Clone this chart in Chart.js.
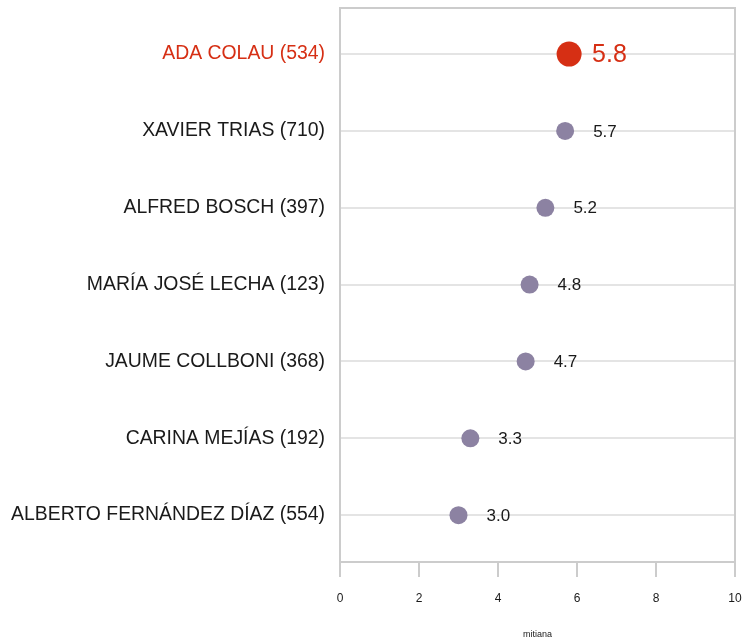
<!DOCTYPE html>
<html>
<head>
<meta charset="utf-8">
<script src="https://cdn.jsdelivr.net/npm/chart.js@4.4.1/dist/chart.umd.min.js"></script>
<style>
  html, body { margin: 0; padding: 0; background: #fff; }
  #wrap { width: 746px; height: 640px; }
</style>
</head>
<body>
<div id="wrap"><canvas id="chart"></canvas></div>
<script>
const names = [
  "ADA COLAU (534)",
  "XAVIER TRIAS (710)",
  "ALFRED BOSCH (397)",
  "MARÍA JOSÉ LECHA (123)",
  "JAUME COLLBONI (368)",
  "CARINA MEJÍAS (192)",
  "ALBERTO FERNÁNDEZ DÍAZ (554)",
];
const medians = [5.8, 5.7, 5.2, 4.8, 4.7, 3.3, 3.0];
const xTicks = [0, 2, 4, 6, 8, 10];
const highlight = 0;

const palette = {
  red: "#d62f14",
  purple: "#8c82a2",
  text: "#1a1a1a",
  grid: "#e4e4e4",
  frame: "#cccccc",
};

Chart.defaults.font.family = '"Liberation Sans", Arial, Helvetica, sans-serif';
Chart.defaults.color = palette.text;

const frame = {
  id: "frame",
  beforeDatasetsDraw(chart) {
    const { ctx, chartArea: a } = chart;
    ctx.save();
    ctx.strokeStyle = palette.frame;
    ctx.lineWidth = 2;
    ctx.strokeRect(a.left, a.top, a.right - a.left, a.bottom - a.top);
    ctx.restore();
  },
};

const valueLabels = {
  id: "valueLabels",
  afterDatasetsDraw(chart) {
    const { ctx } = chart;
    const points = chart.getDatasetMeta(0).data;
    ctx.save();
    ctx.textBaseline = "middle";
    ctx.textAlign = "left";
    points.forEach((pt, i) => {
      const big = i === highlight;
      ctx.fillStyle = big ? palette.red : palette.text;
      ctx.font = `${big ? 25 : 17}px ${Chart.defaults.font.family}`;
      ctx.fillText(medians[i].toFixed(1), pt.x + (big ? 23 : 28), pt.y + 1);
    });
    ctx.restore();
  },
};

new Chart(document.getElementById("chart"), {
  type: "scatter",
  data: {
    datasets: [
      {
        data: medians.map((v, i) => ({ x: v, y: i })),
        pointRadius: (c) => (c.dataIndex === highlight ? 12.5 : 9),
        pointHoverRadius: (c) => (c.dataIndex === highlight ? 12.5 : 9),
        backgroundColor: (c) => (c.dataIndex === highlight ? palette.red : palette.purple),
        borderWidth: 0,
      },
    ],
  },
  options: {
    responsive: true,
    maintainAspectRatio: false,
    animation: false,
    layout: { autoPadding: false, padding: { top: 8, right: 11, bottom: 0, left: 0 } },
    plugins: { legend: { display: false }, tooltip: { enabled: false } },
    scales: {
      x: {
        type: "linear",
        min: 0,
        max: 10,
        afterBuildTicks: (axis) => {
          axis.ticks = xTicks.map((value) => ({ value }));
        },
        afterFit: (axis) => {
          axis.height = 78;
          axis.paddingLeft = 0;
          axis.paddingRight = 0;
        },
        grid: {
          drawOnChartArea: false,
          drawTicks: true,
          tickLength: 15,
          color: palette.frame,
          lineWidth: 2,
        },
        border: { display: false },
        ticks: { padding: 14, font: { size: 12 }, color: palette.text, maxRotation: 0 },
        title: { display: true, text: "mitiana", font: { size: 9 }, padding: { top: 0, bottom: 0 } },
      },
      y: {
        type: "linear",
        reverse: true,
        min: -0.6,
        max: 6.61,
        afterBuildTicks: (axis) => {
          axis.ticks = names.map((_, i) => ({ value: i }));
        },
        afterFit: (axis) => {
          axis.width = 340;
          axis.paddingTop = 0;
          axis.paddingBottom = 0;
        },
        grid: { color: palette.grid, lineWidth: 2, drawTicks: false },
        border: { display: false },
        ticks: {
          padding: 15,
          font: { size: 19.4 },
          color: (c) => (c.tick && c.tick.value === highlight ? palette.red : palette.text),
          callback: (value) => names[value],
        },
      },
    },
  },
  plugins: [frame, valueLabels],
});
</script>
</body>
</html>
